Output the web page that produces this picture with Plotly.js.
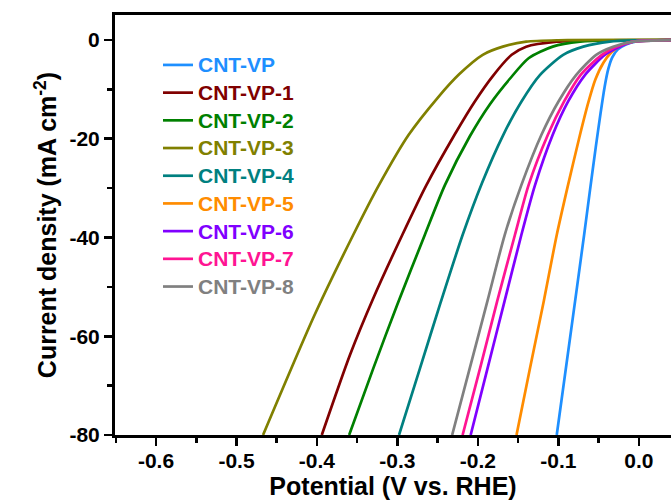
<!DOCTYPE html>
<html>
<head>
<meta charset="utf-8">
<script src="https://cdn.plot.ly/plotly-3.0.1.min.js"></script>
<style>
html,body{margin:0;padding:0;background:#fff;overflow:hidden;}
#chart{width:671px;height:500px;}
</style>
</head>
<body>
<div id="chart"></div>
<script>
// Series names and colours
const seriesNames = ['CNT-VP','CNT-VP-1','CNT-VP-2','CNT-VP-3','CNT-VP-4','CNT-VP-5','CNT-VP-6','CNT-VP-7','CNT-VP-8'];
const seriesColors = ['#1E8FFF','#800000','#008000','#808000','#008080','#FF8C00','#8000FF','#FF1493','#808080'];

// Potential (V vs. RHE) and current density (mA cm-2) per series
const xVP  = [-0.102,-0.085,-0.068,-0.0605,-0.0535,-0.0475,-0.0425,-0.038,-0.033,-0.026,-0.016,-0.003,0.045];
const yVP  = [-80,-59.8,-39.5,-30.2,-21.7,-14.8,-9.5,-5.9,-3.5,-1.9,-0.9,-0.3,-0.02];

const xVP1 = [-0.394,-0.359,-0.330,-0.294,-0.264,-0.229,-0.204,-0.181,-0.158,-0.140,-0.102,-0.050,0.045];
const yVP1 = [-80,-63.8,-52.3,-39.5,-29.4,-19.2,-12.5,-7.2,-3.0,-1.35,-0.34,-0.05,0];

const xVP2 = [-0.360,-0.330,-0.300,-0.266,-0.241,-0.210,-0.185,-0.160,-0.137,-0.107,-0.073,-0.030,0.045];
const yVP2 = [-80,-66.5,-53.5,-39.5,-29.4,-19.5,-13.0,-7.8,-3.7,-1.35,-0.34,-0.05,0];

const xVP3 = [-0.467,-0.403,-0.355,-0.323,-0.286,-0.250,-0.223,-0.194,-0.169,-0.140,-0.100,0.045];
const yVP3 = [-80,-55.7,-39.5,-29.4,-19.2,-11.7,-6.9,-3.0,-1.35,-0.34,-0.05,0];

const xVP4 = [-0.298,-0.272,-0.246,-0.219,-0.195,-0.169,-0.146,-0.123,-0.094,-0.069,-0.036,0.000,0.045];
const yVP4 = [-80,-66.5,-53.0,-39.5,-29.0,-19.4,-12.5,-7.1,-3.0,-1.35,-0.34,-0.08,0];

const xVP5 = [-0.152,-0.135,-0.118,-0.102,-0.088,-0.074,-0.063,-0.054,-0.044,-0.034,-0.022,-0.007,0.045];
const yVP5 = [-80,-66.3,-52.8,-39.5,-29.4,-19.8,-12.8,-8.0,-4.6,-2.5,-1.1,-0.34,-0.02];

const xVP6 = [-0.209,-0.188,-0.167,-0.146,-0.129,-0.107,-0.088,-0.067,-0.042,-0.024,-0.007,0.045];
const yVP6 = [-80,-66.5,-53.0,-39.5,-29.4,-19.2,-12.5,-7.1,-3.0,-1.35,-0.34,-0.02];

const xVP7 = [-0.219,-0.197,-0.176,-0.154,-0.137,-0.113,-0.093,-0.0725,-0.046,-0.028,-0.007,0.045];
const yVP7 = [-80,-66.3,-52.9,-39.5,-29.4,-19.2,-12.5,-7.1,-3.0,-1.35,-0.34,-0.02];

const xVP8 = [-0.232,-0.210,-0.188,-0.1667,-0.146,-0.121,-0.100,-0.078,-0.053,-0.032,-0.007,0.045];
const yVP8 = [-80,-66.4,-52.8,-39.5,-29.4,-19.2,-12.5,-7.1,-3.0,-1.35,-0.34,-0.02];

const xTickVals = [-0.6,-0.5,-0.4,-0.3,-0.2,-0.1,0.0];
const xTickText = ['-0.6','-0.5','-0.4','-0.3','-0.2','-0.1','0.0'];
const yTickVals = [-80,-60,-40,-20,0];
const yTickText = ['-80','-60','-40','-20','0'];

const xs = [xVP,xVP1,xVP2,xVP3,xVP4,xVP5,xVP6,xVP7,xVP8];
const ys = [yVP,yVP1,yVP2,yVP3,yVP4,yVP5,yVP6,yVP7,yVP8];

const FONT = 'Liberation Sans, Arial, sans-serif';

const traces = seriesNames.map((n,i)=>({
  x: xs[i], y: ys[i], type:'scatter', mode:'lines',
  name: '<span style="color:'+seriesColors[i]+';font-size:21px">'+n+'</span>',
  line:{color:seriesColors[i], width:2.7, shape:'spline', smoothing:0.7}
}));

const layout = {
  width:671, height:500,
  margin:{l:115, r:0, t:15, b:65},
  paper_bgcolor:'#fff', plot_bgcolor:'#fff',
  showlegend:true,
  legend:{x:0.0773, xanchor:'left', y:0.926, yanchor:'top',
    font:{family:FONT, size:19, weight:'bold', color:'#000'},
    bgcolor:'rgba(0,0,0,0)', tracegroupgap:0},
  xaxis:{range:[-0.651,0.04], tickvals:xTickVals, ticktext:xTickText,
    ticks:'outside', ticklen:8, tickwidth:2.5, tickcolor:'#000', ticklabelstandoff:-3,
    minor:{dtick:0.05, tick0:0, ticks:'outside', ticklen:5, tickwidth:2.5, tickcolor:'#000'},
    showline:true, linewidth:3, linecolor:'#000', mirror:true,
    showgrid:false, zeroline:false,
    tickfont:{family:FONT, size:21, weight:'bold', color:'#000'},
    title:{text:'Potential (V vs. RHE)', font:{family:FONT, size:25, weight:'bold', color:'#000'}, standoff:9}},
  yaxis:{range:[-80,5.06], tickvals:yTickVals, ticktext:yTickText,
    ticks:'outside', ticklen:8, tickwidth:2.5, tickcolor:'#000',
    minor:{dtick:10, tick0:0, ticks:'outside', ticklen:5, tickwidth:2.5, tickcolor:'#000'},
    showline:true, linewidth:3, linecolor:'#000', mirror:false,
    showgrid:false, zeroline:false,
    tickfont:{family:FONT, size:21, weight:'bold', color:'#000'},
    title:{text:'Current density (mA cm<sup>-2</sup>)', font:{family:FONT, size:25, weight:'bold', color:'#000'}, standoff:6}}
};

Plotly.newPlot('chart', traces, layout, {displayModeBar:false, staticPlot:true});
</script>
</body>
</html>
